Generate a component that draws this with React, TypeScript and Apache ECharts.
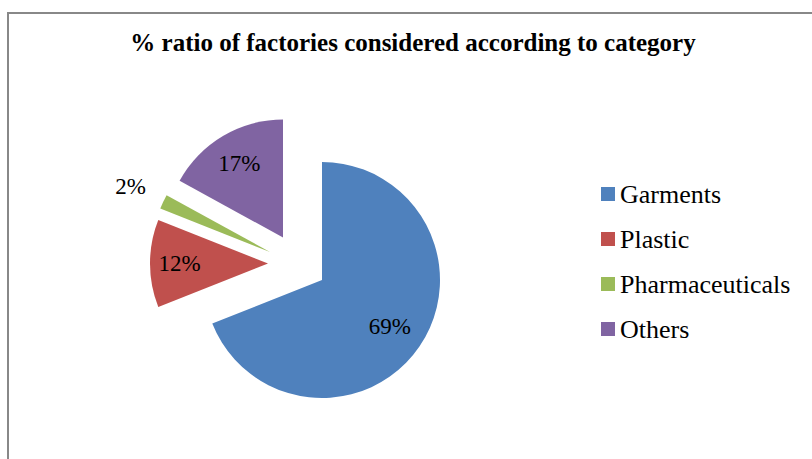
import React, { useEffect, useRef } from 'react';
import * as echarts from 'echarts';

// ---- data ----
const categories = ['Garments', 'Plastic', 'Pharmaceuticals', 'Others'];
const values = [69, 12, 2, 17];
const colors = ['#4F81BD', '#C0504D', '#9BBB59', '#8064A2'];
const titleText = '% ratio of factories considered according to category';

// ---- layout (px) ----
const sliceCenters = [
  [322, 280],
  [268, 263.5],
  [270, 252],
  [283, 237.5],
];
const sliceRadius = 118;
const labelRadii = [79, 85.5, 151, 83];

const FONT = '"Liberation Serif", "Times New Roman", serif';
const TRANSPARENT = 'rgba(0,0,0,0)';

function sliceData(i: number, forLabel: boolean) {
  const before = values.slice(0, i).reduce((a, b) => a + b, 0);
  const after = values.slice(i + 1).reduce((a, b) => a + b, 0);
  const hidden = {
    itemStyle: { color: TRANSPARENT },
    label: { show: false },
    labelLine: { show: false },
  };
  const d: any[] = [];
  if (before > 0) d.push({ name: `__before_${i}`, value: before, ...hidden });
  d.push({
    name: categories[i],
    value: values[i],
    itemStyle: { color: forLabel ? TRANSPARENT : colors[i] },
    label: { show: forLabel },
  });
  if (after > 0) d.push({ name: `__after_${i}`, value: after, ...hidden });
  return d;
}

function baseSeries(i: number, forLabel: boolean) {
  return {
    type: 'pie',
    silent: true,
    center: sliceCenters[i],
    radius: forLabel ? labelRadii[i] * 2 : sliceRadius,
    startAngle: 90,
    clockwise: true,
    avoidLabelOverlap: false,
    emphasis: { disabled: true },
    itemStyle: { borderWidth: 0 },
    label: {
      position: 'inside',
      formatter: '{c}%',
      color: '#000',
      fontFamily: FONT,
      fontSize: 23,
    },
    labelLine: { show: false },
    data: sliceData(i, forLabel),
  };
}

export default function App() {
  const ref = useRef<HTMLDivElement>(null);
  useEffect(() => {
    if (!ref.current) return;
    const chart = echarts.init(ref.current, undefined, { renderer: 'svg' });
    const series: any[] = [];
    categories.forEach((_, i) => series.push(baseSeries(i, false)));
    categories.forEach((_, i) => series.push(baseSeries(i, true)));
    chart.setOption({
      animation: false,
      backgroundColor: '#fff',
      title: {
        text: titleText,
        left: 413,
        top: 30,
        padding: 0,
        textAlign: 'center',
        textStyle: {
          fontFamily: FONT,
          fontWeight: 'bold',
          fontSize: 25,
          color: '#000',
        },
      },
      legend: {
        data: categories,
        orient: 'vertical',
        left: 601,
        top: 181,
        padding: 0,
        itemWidth: 14,
        itemHeight: 14,
        itemGap: 19,
        icon: 'rect',
        selectedMode: false,
        textStyle: { fontFamily: FONT, fontSize: 26, color: '#000', padding: [0, 0, 0, 0] },
      },
      graphic: [
        {
          type: 'rect',
          silent: true,
          shape: { x: 8, y: 13, width: 1000, height: 1000 },
          style: { fill: 'none', stroke: '#888', lineWidth: 2 },
        },
      ],
      series,
    });
    return () => chart.dispose();
  }, []);
  return (
    <div
      ref={ref}
      style={{ position: 'absolute', left: 0, top: 0, width: 812, height: 459 }}
    />
  );
}
